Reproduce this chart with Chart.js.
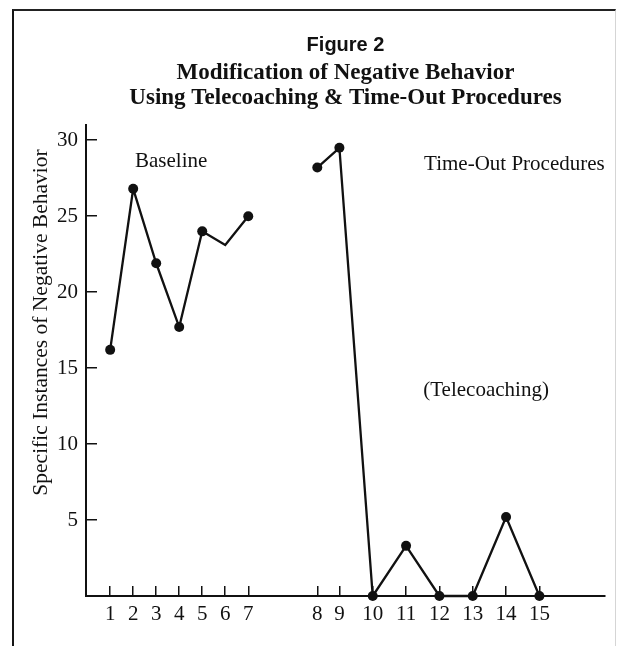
<!DOCTYPE html>
<html>
<head>
<meta charset="utf-8">
<script src="https://cdn.jsdelivr.net/npm/chart.js@4.4.0/dist/chart.umd.min.js"></script>
<style>
  html, body { margin: 0; padding: 0; background: #fff; }
  #wrap { position: relative; width: 620px; height: 646px; }
  #frame { position: absolute; left: 12px; top: 9px; width: 601px; height: 645px;
           border-left: 2px solid #151515; border-top: 2px solid #222; border-right: 1px solid #d5d5d5; }
  canvas { position: absolute; left: 0; top: 0; }
</style>
</head>
<body>
<div id="wrap">
  <div id="frame"></div>
  <canvas id="grafico" width="620" height="646"></canvas>
</div>
<script>
// Dados
const baselineSessions = [1, 2, 3, 4, 5, 6, 7];
const baselineValues = [16.2, 26.8, 21.9, 17.7, 24.0, 23.1, 25.0];
const timeoutSessions = [8, 9, 10, 11, 12, 13, 14, 15];
const timeoutValues = [28.2, 29.5, 0, 3.3, 0, 0, 5.2, 0];
const sessionsSemPonto = [6]; // vértice sem marcador no original
const xTicks = [1, 2, 3, 4, 5, 6, 7, 8, 9, 10, 11, 12, 13, 14, 15];
const yTicks = [5, 10, 15, 20, 25, 30];

const tituloFig = 'Figure 2';
const subtitulo = ['Modification of Negative Behavior', 'Using Telecoaching & Time-Out Procedures'];
const tituloY = 'Specific Instances of Negative Behavior';
const anotacoes = [
  { texto: 'Baseline', sessao: 3.65, valor: 28.6 },
  { texto: 'Time-Out Procedures', sessao: 14.25, valor: 28.4 },
  { texto: '(Telecoaching)', sessao: 13.4, valor: 13.55 }
];

// O eixo x do original é desenhado à mão: espaçamento diferente antes e depois da pausa
const eixoQuebras = [[1, 1], [7, 7], [8, 10], [9, 10.96], [15, 19.65]];

function interp(v, de, para) {
  let i = 0;
  while (i < eixoQuebras.length - 2 && v > eixoQuebras[i + 1][de]) i++;
  const a = eixoQuebras[i], b = eixoQuebras[i + 1];
  return a[para] + (v - a[de]) * (b[para] - a[para]) / (b[de] - a[de]);
}

class SessionScale extends Chart.LinearScale {
  getPixelForValue(value, index) {
    return super.getPixelForValue(interp(value, 0, 1), index);
  }
  getValueForPixel(pixel) {
    return interp(super.getValueForPixel(pixel), 1, 0);
  }
}
SessionScale.id = 'session';
SessionScale.defaults = Chart.LinearScale.defaults;
Chart.register(SessionScale);

const serif = '"Liberation Serif", "Times New Roman", serif';

const rotulos = {
  id: 'rotulos',
  afterDatasetsDraw(chart) {
    const { ctx, scales: { x, y } } = chart;
    ctx.save();
    ctx.fillStyle = '#111';
    ctx.font = '21px ' + serif;
    ctx.textAlign = 'center';
    ctx.textBaseline = 'middle';
    anotacoes.forEach(a => {
      ctx.fillText(a.texto, x.getPixelForValue(a.sessao), y.getPixelForValue(a.valor));
    });
    // título do eixo y, um pouco acima do centro como no original
    ctx.font = '21.5px ' + serif;
    ctx.translate(y.left + 41, y.getPixelForValue(18));
    ctx.rotate(-Math.PI / 2);
    ctx.fillText(tituloY, 0, 0);
    ctx.restore();
  }
};

function pontos(sessions, values) {
  return sessions.map((s, i) => ({ x: s, y: values[i] }));
}

const estiloLinha = {
  borderColor: '#111',
  backgroundColor: '#111',
  borderWidth: 2.3,
  pointRadius: c => (c.raw && sessionsSemPonto.includes(c.raw.x)) ? 0 : 5,
  pointHoverRadius: c => (c.raw && sessionsSemPonto.includes(c.raw.x)) ? 0 : 5,
  pointBorderWidth: 0,
  tension: 0,
  clip: false
};

new Chart(document.getElementById('grafico'), {
  type: 'line',
  data: {
    datasets: [
      Object.assign({ label: 'Baseline', data: pontos(baselineSessions, baselineValues) }, estiloLinha),
      Object.assign({ label: 'Time-Out Procedures', data: pontos(timeoutSessions, timeoutValues) }, estiloLinha)
    ]
  },
  options: {
    responsive: false,
    animation: false,
    layout: { padding: { top: 0, right: 15, bottom: 0, left: 0 } },
    plugins: {
      legend: { display: false },
      tooltip: { enabled: false },
      title: {
        display: true,
        text: tituloFig,
        fullSize: false,
        color: '#111',
        font: { family: '"Liberation Sans", Arial, sans-serif', size: 20, weight: 'bold', lineHeight: 1.2 },
        padding: { top: 33, bottom: 3 }
      },
      subtitle: {
        display: true,
        text: subtitulo,
        fullSize: false,
        color: '#111',
        font: { family: serif, size: 23, weight: 'bold', lineHeight: 1.1 },
        padding: { top: 0, bottom: 14.4 }
      }
    },
    scales: {
      x: {
        type: 'session',
        position: 'bottom',
        min: -0.05,
        max: 22.5,
        afterBuildTicks: s => { s.ticks = xTicks.map(v => ({ value: v })); },
        afterFit: s => { s.height = 50; },
        ticks: {
          autoSkip: false,
          maxRotation: 0,
          padding: 16,
          color: '#111',
          font: { family: serif, size: 21 },
          callback: v => String(v)
        },
        grid: { drawOnChartArea: false, drawTicks: true, tickLength: -10, color: '#111', lineWidth: 1.5 },
        border: { display: true, color: '#111', width: 2 }
      },
      y: {
        min: 0,
        max: 31,
        afterBuildTicks: s => { s.ticks = yTicks.map(v => ({ value: v })); },
        afterFit: s => { s.width = 86; },
        ticks: {
          padding: 19,
          color: '#111',
          font: { family: serif, size: 21 },
          callback: v => String(v)
        },
        grid: { drawOnChartArea: false, drawTicks: true, tickLength: -11, color: '#111', lineWidth: 1.5 },
        border: { display: true, color: '#111', width: 2 }
      }
    }
  },
  plugins: [rotulos]
});
</script>
</body>
</html>
